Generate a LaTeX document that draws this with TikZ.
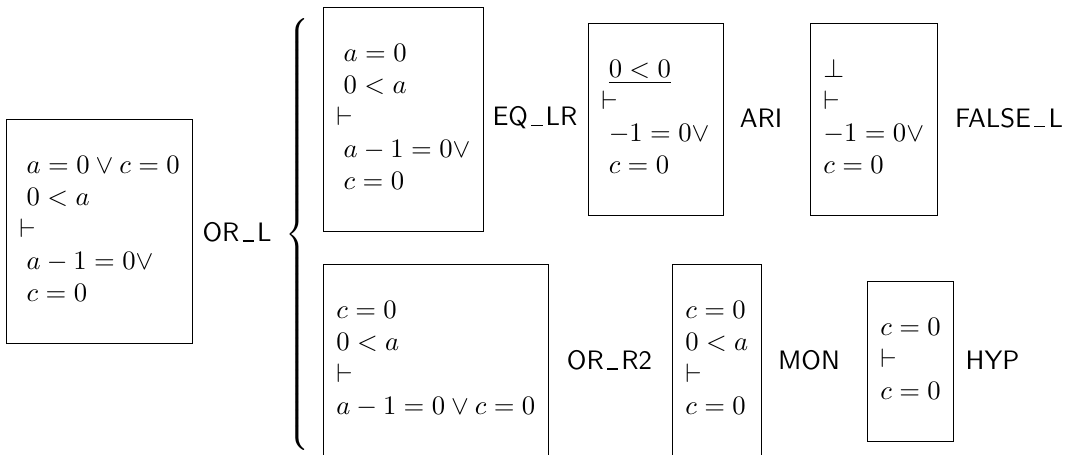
\documentclass[tikz,border=0pt]{standalone}
\newcommand{\seqcell}[2]{\makebox[#1][l]{\begin{tabular}{@{}l@{}}#2\end{tabular}}}
\newcommand{\us}{\hspace{0.12em}\rule[-0.1pt]{0.42em}{0.45pt}\hspace{0.12em}}
\delimitershortfall=0pt
\delimiterfactor=1000
\tikzset{
  seqbox/.style={draw, anchor=north west, inner xsep=4.8pt, inner ysep=12pt},
  rulename/.style={font=\sffamily, inner sep=0pt},
}
\begin{document}
\begin{tikzpicture}[x=1cm,y=1cm]
\useasboundingbox (0,0) rectangle (14.208,-5.997);
\node[seqbox] (s0) at (0.079,-1.568) {\seqcell{60.15pt}{$\;a=0\vee c=0$\\ $\;0<a$\\ $\vdash$\\ $\;a-1=0\vee$\\ $\;c=0$}};
\node[rulename] (r0) at (3.124,-3.058) {OR\us L};
\node[inner sep=0pt] (br) at (3.941,-3.09) {$\left\{\vcenter{\hrule height 162pt width 0pt}\right.$};
\node[seqbox] (s1) at (4.257,-0.092) {\seqcell{50.4pt}{$\;a=0$\\ $\;0<a$\\ $\vdash$\\ $\;a-1=0\vee$\\ $\;c=0$}};
\node[rulename] (r1) at (7.051,-1.555) {EQ\us LR};
\node[seqbox] (s2) at (7.750,-0.303) {\seqcell{41.0pt}{$\;\underline{0<0}$\\ $\vdash$\\ $\;-1=0\vee$\\ $\;c=0$}};
\node[rulename] (r2) at (10.030,-1.555) {ARI};
\node[seqbox] (s3) at (10.676,-0.303) {\seqcell{38.0pt}{$\bot$\\ $\vdash$\\ $-1=0\vee$\\ $c=0$}};
\node[rulename] (r3) at (13.299,-1.555) {FALSE\us L};
\node[seqbox] (s4) at (4.257,-3.480) {\seqcell{74.8pt}{$c=0$\\ $0<a$\\ $\vdash$\\ $a-1=0\vee c=0$}};
\node[rulename] (r4) at (8.033,-4.745) {OR\us R2};
\node[seqbox] (s5) at (8.857,-3.480) {\seqcell{23.8pt}{$c=0$\\ $0<a$\\ $\vdash$\\ $c=0$}};
\node[rulename] (r5) at (10.663,-4.745) {MON};
\node[seqbox] (s6) at (11.427,-3.704) {\seqcell{22.65pt}{$c=0$\\ $\vdash$\\ $c=0$}};
\node[rulename] (r6) at (13.081,-4.745) {HYP};
\end{tikzpicture}
\end{document}
